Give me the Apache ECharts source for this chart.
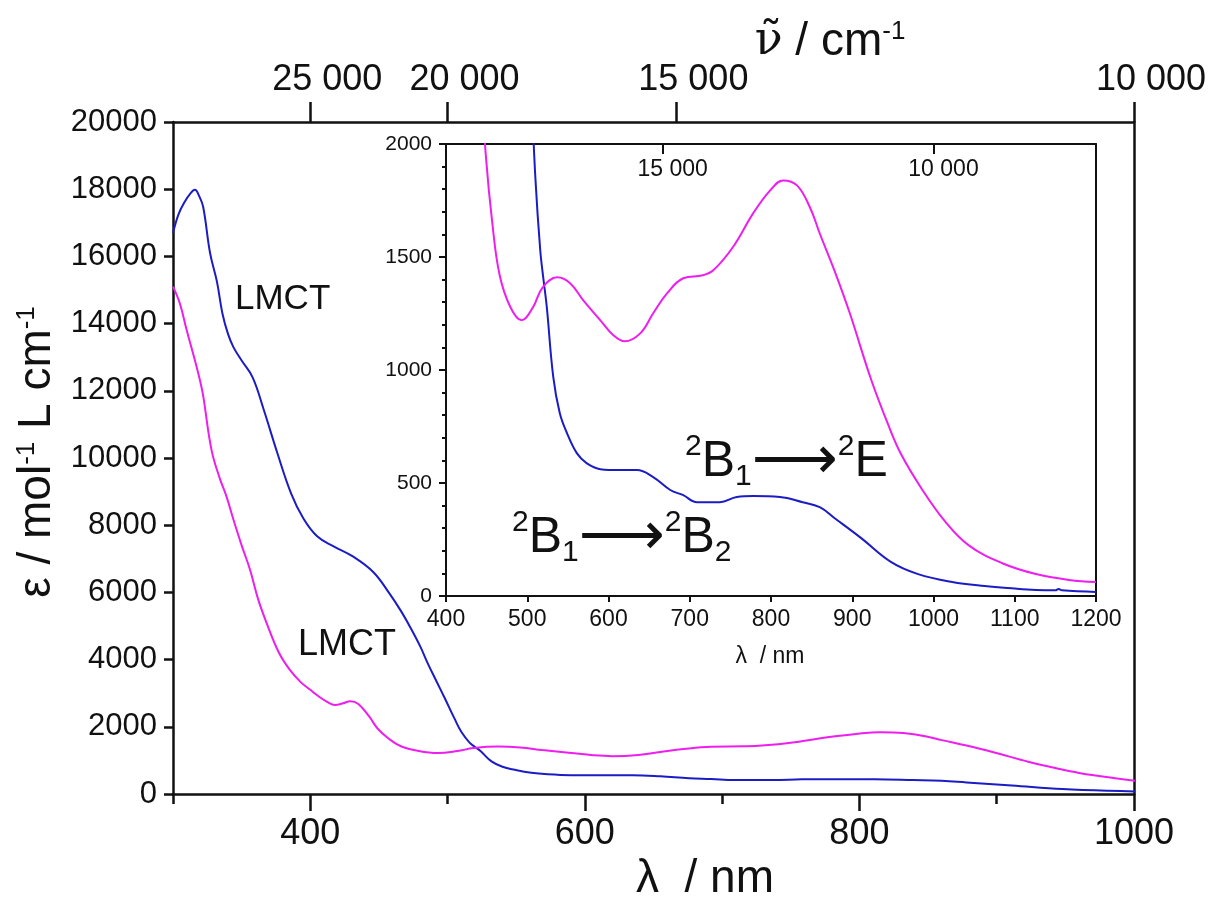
<!DOCTYPE html>
<html>
<head>
<meta charset="utf-8">
<title>Absorption spectra</title>
<script src="https://cdn.jsdelivr.net/npm/echarts@6/dist/echarts.min.js"></script>
<style>
  html, body { margin: 0; padding: 0; background: #fff; }
  #chart { width: 1209px; height: 899px; }
</style>
</head>
<body>
<div id="chart"></div>
<script>
// wavelength (nm) and epsilon (mol-1 L cm-1)
var blueNm = [300, 304, 308, 313, 316, 319, 322, 327, 332, 336, 340, 344, 350, 358, 366, 376, 386, 395, 405, 417,
  431, 446, 458, 466, 473, 480, 486, 492, 498, 505, 510, 516, 520, 524, 532, 540, 549, 561, 573, 590, 614, 635,
  655, 676, 692, 709, 737, 758, 778, 811, 839, 860, 878, 911, 948, 981, 1023, 1063, 1100, 1126, 1150, 1154, 1158, 1200]
var blueEps = [16700, 17250, 17590, 17890, 17980, 17800, 17470, 16100, 15250, 14300, 13700, 13300, 12900, 12400, 11450, 10150, 8950, 8200, 7670, 7370,
  7070, 6600, 5950, 5450, 4950, 4400, 3850, 3350, 2850, 2250, 1850, 1530, 1400, 1280, 970, 810, 720, 632, 588, 561, 557, 557,
  526, 469, 446, 415, 415, 438, 442, 438, 415, 393, 345, 256, 150, 97, 62, 44, 33, 27, 25, 31, 25, 18]

var pinkNm = [300, 305, 310, 316, 320, 322, 328, 334, 339, 344, 350, 356, 362, 368, 377, 385, 393, 400, 406, 412,
  418, 424, 429, 435, 443, 449, 457, 466, 479, 493, 507, 519, 537, 553, 569, 590, 606, 620, 639, 655,
  672, 692, 716, 729, 753, 778, 799, 815, 832, 848, 860, 878, 897, 923, 944, 960, 985, 1014, 1043, 1084, 1126, 1167, 1200]
var pinkEps = [15100, 14600, 13800, 12900, 12250, 11850, 10250, 9400, 8850, 8170, 7400, 6690, 5800, 5110, 4220, 3700, 3330, 3100, 2910, 2750,
  2650, 2700, 2760, 2680, 2300, 1950, 1650, 1420, 1280, 1220, 1277, 1366, 1410, 1383, 1308, 1220, 1154, 1127, 1162, 1251,
  1339, 1406, 1419, 1441, 1543, 1693, 1795, 1839, 1817, 1719, 1604, 1441, 1251, 960, 760, 628, 477, 331, 225, 146, 97, 71, 62]

// tick labels
var mainNmLabels = [400, 600, 800, 1000]
var mainNmMinor = [300, 500, 700, 900]
var mainWavenumbers = [25000, 20000, 15000, 10000]
var insetWavenumbers = [15000, 10000]

var BLUE = '#1c1cc4'
var PINK = '#ee1eee'
var INK = '#111'
var FONT = '"Liberation Sans", Arial, sans-serif'

function pairs(xs, ys) {
  return xs.map(function(x, i) { return [x, ys[i]] })
}
function toNm(w) {
  return 1e7 / w
}
function plain(v) {
  return String(Math.round(v))
}
function fmtWn(v) {
  var w = Math.round(1e7 / v)
  return String(w).replace(/(\d)(?=(\d{3})+$)/g, '$1 ')
}

var chart = echarts.init(document.getElementById('chart'))

function spectrum(data, color, xi, yi) {
  return {
    type: 'line',
    xAxisIndex: xi,
    yAxisIndex: yi,
    data: data,
    showSymbol: false,
    smooth: 0.4,
    clip: true,
    lineStyle: { color: color, width: 2 },
    silent: true
  }
}

// text pieces for the transition labels
var transRich = {
  b: { fontSize: 50, fontFamily: FONT, fill: INK, lineHeight: 60 },
  p: { fontSize: 30, fontFamily: FONT, fill: INK, verticalAlign: 'top' },
  d: { fontSize: 30, fontFamily: FONT, fill: INK, verticalAlign: 'bottom' },
  a: { fontSize: 60, fontFamily: 'DejaVu Sans', fill: INK }
}

chart.setOption({
  backgroundColor: '#fff',
  animation: false,
  textStyle: { fontFamily: FONT, color: INK },
  grid: [
    { left: 173, top: 122, width: 961, height: 672 },
    { left: 446, top: 144, width: 650, height: 452 }
  ],
  xAxis: [
    { // main, nm
      type: 'value', gridIndex: 0, position: 'bottom', min: 300, max: 1000, interval: 100,
      axisLine: { onZero: false, lineStyle: { color: INK, width: 2.5 } },
      axisTick: { length: 17, customValues: mainNmLabels, lineStyle: { color: INK, width: 2.5 } },
      axisLabel: { customValues: mainNmLabels, formatter: plain, fontSize: 36, color: INK, margin: 22 },
      splitLine: { show: false }
    },
    { // main, short ticks
      type: 'value', gridIndex: 0, position: 'bottom', min: 300, max: 1000, interval: 100,
      axisLine: { show: false, onZero: false },
      axisTick: { length: 10, customValues: mainNmMinor, lineStyle: { color: INK, width: 2.5 } },
      axisLabel: { show: false },
      splitLine: { show: false }
    },
    { // main, wavenumber on top
      type: 'value', gridIndex: 0, position: 'top', min: 300, max: 1000,
      axisLine: { onZero: false, lineStyle: { color: INK, width: 2.5 } },
      axisTick: { length: 20, customValues: mainWavenumbers.map(toNm), lineStyle: { color: INK, width: 2.5 } },
      axisLabel: { customValues: mainWavenumbers.map(toNm), formatter: fmtWn, fontSize: 36, color: INK, margin: 24, padding: [0, 0, 0, 34] },
      splitLine: { show: false }
    },
    { // inset, nm
      type: 'value', gridIndex: 1, position: 'bottom', min: 400, max: 1200, interval: 100,
      axisLine: { onZero: false, lineStyle: { color: INK, width: 2 } },
      axisTick: { length: 6, lineStyle: { color: INK, width: 2 } },
      axisLabel: { formatter: plain, fontSize: 23, color: INK, margin: 12 },
      splitLine: { show: false }
    },
    { // inset, wavenumber on top
      type: 'value', gridIndex: 1, position: 'top', min: 400, max: 1200,
      axisLine: { onZero: false, lineStyle: { color: INK, width: 2 } },
      axisTick: { inside: true, length: 10, customValues: insetWavenumbers.map(toNm), lineStyle: { color: INK, width: 2 } },
      axisLabel: { inside: true, customValues: insetWavenumbers.map(toNm), formatter: fmtWn, fontSize: 23, color: INK, margin: 14, padding: [0, 0, 0, 20] },
      splitLine: { show: false }
    }
  ],
  yAxis: [
    {
      type: 'value', gridIndex: 0, position: 'left', min: 0, max: 20000, interval: 2000,
      axisLine: { show: true, onZero: false, lineStyle: { color: INK, width: 2.5 } },
      axisTick: { show: true, length: 9, lineStyle: { color: INK, width: 2.5 } },
      axisLabel: { formatter: plain, fontSize: 31, color: INK, margin: 16 },
      splitLine: { show: false }
    },
    {
      type: 'value', gridIndex: 0, position: 'right', min: 0, max: 20000,
      axisLine: { show: true, onZero: false, lineStyle: { color: INK, width: 2.5 } },
      axisTick: { show: false }, axisLabel: { show: false }, splitLine: { show: false }
    },
    {
      type: 'value', gridIndex: 1, position: 'left', min: 0, max: 2000, interval: 500,
      axisLine: { show: true, onZero: false, lineStyle: { color: INK, width: 2 } },
      axisTick: { show: true, length: 7, lineStyle: { color: INK, width: 2 } },
      minorTick: { show: true, splitNumber: 5, length: 4, lineStyle: { color: INK, width: 2 } },
      axisLabel: { formatter: plain, fontSize: 21, color: INK, margin: 14 },
      splitLine: { show: false }
    },
    {
      type: 'value', gridIndex: 1, position: 'right', min: 0, max: 2000,
      axisLine: { show: true, onZero: false, lineStyle: { color: INK, width: 2 } },
      axisTick: { show: false }, axisLabel: { show: false }, splitLine: { show: false }
    }
  ],
  series: [
    spectrum(pairs(blueNm, blueEps), BLUE, 0, 0),
    spectrum(pairs(pinkNm, pinkEps), PINK, 0, 0),
    spectrum(pairs(blueNm, blueEps), BLUE, 3, 2),
    spectrum(pairs(pinkNm, pinkEps), PINK, 3, 2)
  ],
  graphic: [
    { // top axis title
      type: 'text', x: 830, y: 42,
      style: {
        text: '{n|ν̃}{t| / cm}{s|-1}', align: 'center', verticalAlign: 'middle', fill: INK,
        rich: {
          n: { fontSize: 46, fontFamily: 'DejaVu Serif', fill: INK },
          t: { fontSize: 46, fontFamily: FONT, fill: INK },
          s: { fontSize: 26, fontFamily: FONT, fill: INK, verticalAlign: 'top' }
        }
      }
    },
    { // bottom axis title
      type: 'text', x: 705, y: 879,
      style: { text: 'λ  / nm', align: 'center', verticalAlign: 'middle', fontSize: 46, fontFamily: FONT, fill: INK }
    },
    { // y axis title
      type: 'text', x: 37, y: 452, rotation: Math.PI / 2,
      style: {
        text: '{t|ε / mol}{s|-1}{t| L cm}{s|-1}', align: 'center', verticalAlign: 'middle', fill: INK,
        rich: { t: { fontSize: 46, fontFamily: FONT, fill: INK }, s: { fontSize: 26, fontFamily: FONT, fill: INK, verticalAlign: 'top' } }
      }
    },
    { // inset x title
      type: 'text', x: 770, y: 657,
      style: { text: 'λ  / nm', align: 'center', verticalAlign: 'middle', fontSize: 23, fontFamily: FONT, fill: INK }
    },
    {
      type: 'text', x: 235, y: 299,
      style: { text: 'LMCT', align: 'left', verticalAlign: 'middle', fontSize: 35, fontFamily: FONT, fill: INK }
    },
    {
      type: 'text', x: 298, y: 645,
      style: { text: 'LMCT', align: 'left', verticalAlign: 'middle', fontSize: 36, fontFamily: FONT, fill: INK }
    },
    {
      type: 'text', x: 512, y: 538,
      style: { text: '{p|2}{b|B}{d|1}{a|⟶}{p|2}{b|B}{d|2}', align: 'left', verticalAlign: 'middle', fill: INK, rich: transRich }
    },
    {
      type: 'text', x: 685, y: 462,
      style: { text: '{p|2}{b|B}{d|1}{a|⟶}{p|2}{b|E}', align: 'left', verticalAlign: 'middle', fill: INK, rich: transRich }
    }
  ]
})
</script>
</body>
</html>
